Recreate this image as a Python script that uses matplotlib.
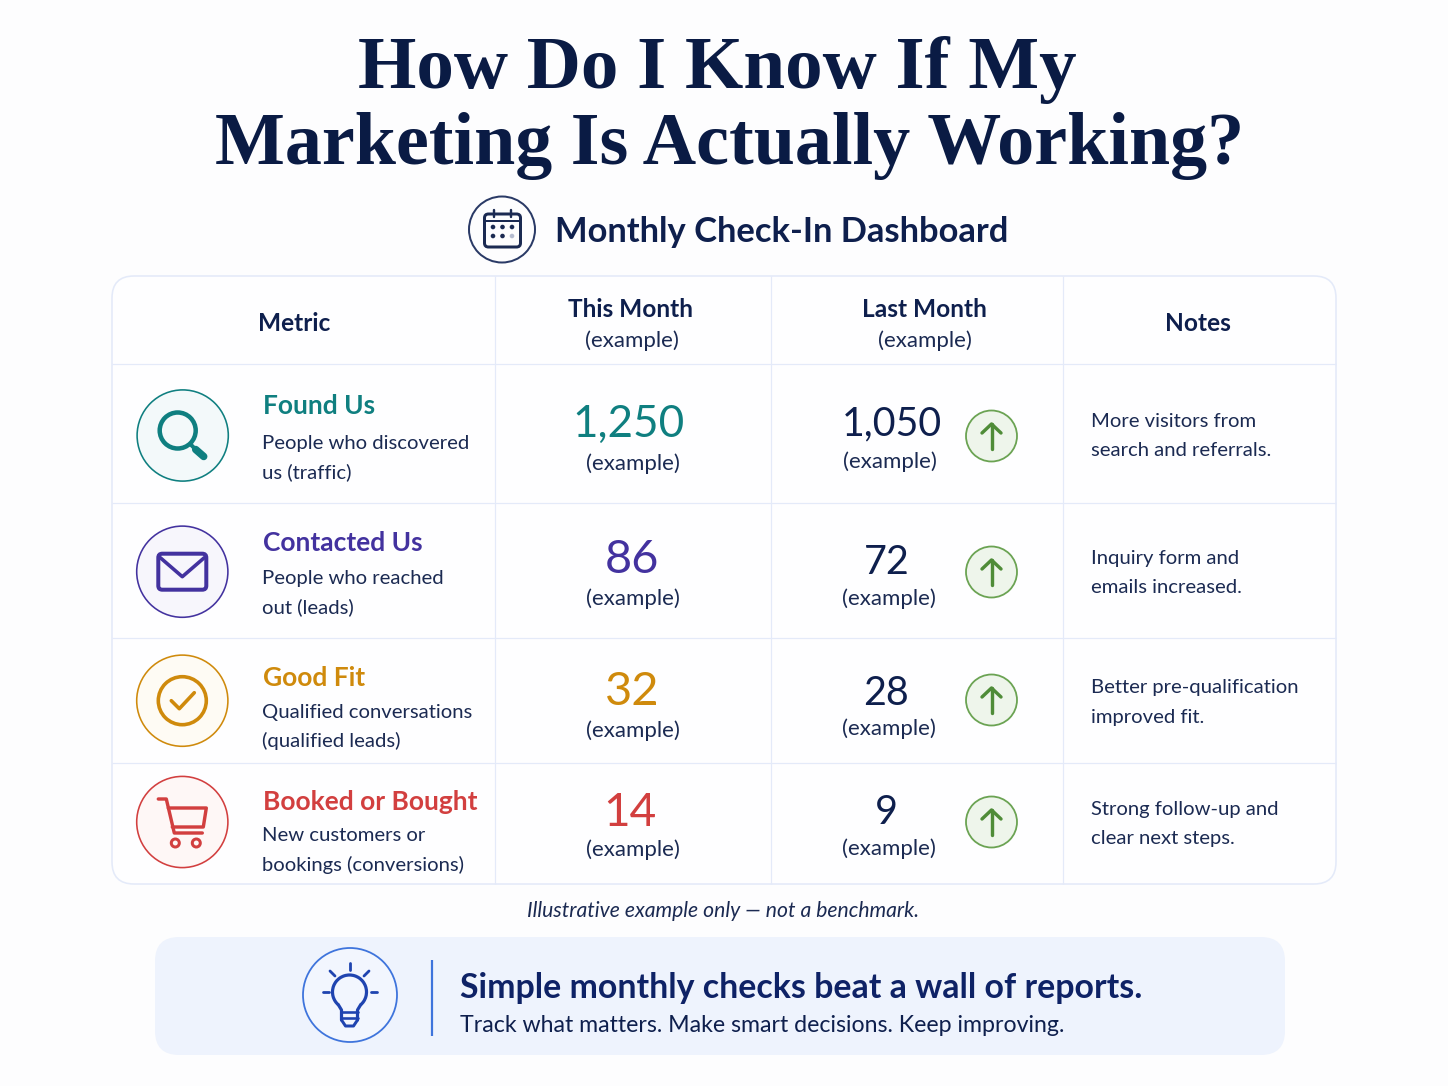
import numpy as np
import matplotlib
matplotlib.use("Agg")
import matplotlib.pyplot as plt
from matplotlib.patches import Circle, FancyBboxPatch, Rectangle, Arc, PathPatch
from matplotlib.path import Path

# ---------- content ----------
title_lines = ["How Do I Know If My", "Marketing Is Actually Working?"]
subtitle = "Monthly Check-In Dashboard"
col_heads = ["Metric", "This Month", "Last Month", "Notes"]
example = "(example)"
metrics = ["Found Us", "Contacted Us", "Good Fit", "Booked or Bought"]
desc_a = ["People who discovered", "People who reached", "Qualified conversations", "New customers or"]
desc_b = ["us (traffic)", "out (leads)", "(qualified leads)", "bookings (conversions)"]
this_month = ["1,250", "86", "32", "14"]
last_month = ["1,050", "72", "28", "9"]
notes_a = ["More visitors from", "Inquiry form and", "Better pre-qualification", "Strong follow-up and"]
notes_b = ["search and referrals.", "emails increased.", "improved fit.", "clear next steps."]
footnote = "Illustrative example only \u2014 not a benchmark."
banner_head = "Simple monthly checks beat a wall of reports."
banner_sub = "Track what matters. Make smart decisions. Keep improving."

# ---------- style ----------
NAVY = "#0E1F4D"
INK = "#1B2A52"
GRID = "#E4EAF9"
accents = ["#0F7F80", "#43329F", "#CF8A0C", "#D23F3F"]
tints = ["#F3F9FA", "#F7F6FC", "#FEFBF4", "#FEF7F6"]
GREEN = "#6BA353"
BLUE = "#3E74DC"
BLUE_D = "#1F44B0"

W, H = 1448, 1086
fig = plt.figure(figsize=(W / 100, H / 100), dpi=100, facecolor="#FDFDFE")
ax = fig.add_axes([0, 0, 1, 1])
ax.set_xlim(0, W)
ax.set_ylim(H, 0)
ax.axis("off")
PX = 72 / 100


def txt(x, y, s, px, color=INK, weight="normal", ha="left", family="Lato", style="normal"):
    ax.text(x, y, s, fontsize=px * PX, color=color, fontweight=weight, ha=ha, va="baseline",
            family=family, fontstyle=style)


def ln(xs, ys, c, lw, z=5, cap="round"):
    ax.plot(xs, ys, color=c, lw=lw * PX, solid_capstyle=cap, solid_joinstyle="round", zorder=z)


def circ(x, y, r, ec, fc, lw):
    ax.add_patch(Circle((x, y), r, ec=ec, fc=fc, lw=lw * PX, zorder=3))


def rbox(x0, y0, x1, y1, r, ec, fc, lw, z=2):
    ax.add_patch(FancyBboxPatch((x0 + r, y0 + r), x1 - x0 - 2 * r, y1 - y0 - 2 * r,
                                boxstyle=f"round,pad={r},rounding_size={r}",
                                ec=ec, fc=fc, lw=lw * PX, zorder=z))


# ---------- title ----------
txt(717, 88, title_lines[0], 75, "#0A1B44", "bold", "center", "Liberation Serif")
txt(729.5, 164, title_lines[1], 74, "#0A1B44", "bold", "center", "Liberation Serif")

# calendar icon + subtitle
circ(502, 229.5, 33, "#2A3A66", "#FDFDFE", 2)
rbox(484.5, 214, 520.5, 247, 4, "#1B2A52", "none", 3, 5)
ln([485, 520], [221, 221], "#1B2A52", 2)
for vx in (494, 511):
    ln([vx, vx], [210, 217], "#1B2A52", 2.4)
for dx in (493, 502.5, 512):
    ax.add_patch(Circle((dx, 227), 2.3, fc="#1B2A52", ec="none", zorder=6))
for dx, dc in zip((493, 502.5, 512), ("#1B2A52", "#1B2A52", "#B5BCD0")):
    ax.add_patch(Circle((dx, 236), 2.3, fc=dc, ec="none", zorder=6))
txt(555, 242, subtitle, 34.5, "#0E1F4D", "bold")

# ---------- table ----------
T, B, L, R = 276, 884, 112, 1336
cols = [495, 771, 1063]
rows = [363.5, 503, 637.5, 762.5]
rbox(L, T, R, B, 22, GRID, "#FEFEFF", 1.6)
for c in cols:
    ln([c, c], [T, B], GRID, 1.2, 3, "butt")
for r in rows:
    ln([L, R], [r, r], GRID, 1.2, 3, "butt")

txt(294, 331, col_heads[0], 24.4, NAVY, "bold", "center")
txt(631, 317, col_heads[1], 24.4, NAVY, "bold", "center")
txt(631.5, 347, example, 22.3, INK, "normal", "center")
txt(924, 317, col_heads[2], 24.4, NAVY, "bold", "center")
txt(925, 347, example, 22.3, INK, "normal", "center")
txt(1198, 331, col_heads[3], 24.4, NAVY, "bold", "center")

icon_y = [435.5, 571.7, 700.7, 822]
icon_x = [182.7, 182.3, 182.3, 182.3]
title_b = [414, 551, 686, 810]
d1_b = [449, 584, 718, 841]
d2_b = [478, 613, 747, 871]
val_x = [629, 632, 632, 630]
val_b = [437, 573, 705, 826]
val_px = [44, 47, 47, 46]
ex_b = [470, 605, 737, 856]
last_x = [892, 887, 886, 886]
last_b = [435, 574, 705, 824]
lex_x = [890, 889, 889, 889]
lex_b = [468, 605, 735, 855]
n1_b = [427, 564, 693, 815]
n2_b = [456, 593, 723, 844]
arrow_y = [436, 572, 700, 822]

for i in range(4):
    col = accents[i]
    cx, cy = icon_x[i], icon_y[i]
    circ(cx, cy, 45.6, col, tints[i], 1.6)
    if i == 0:
        ax.add_patch(Circle((cx - 5, cy - 5), 18, ec=col, fc="none", lw=4.5 * PX, zorder=5))
        ln([cx + 8, cx + 13], [cy + 9, cy + 14], col, 4)
        ln([cx + 13, cx + 21], [cy + 14, cy + 21], col, 7.5)
    elif i == 1:
        rbox(cx - 24, cy - 18, cx + 24, cy + 18, 4, col, "none", 4, 5)
        ln([cx - 22, cx, cx + 22], [cy - 14, cy + 5, cy - 14], col, 3.6)
    elif i == 2:
        ax.add_patch(Circle((cx, cy), 24, ec=col, fc="none", lw=3.6 * PX, zorder=5))
        ln([cx - 11, cx - 3, cx + 12], [cy, cy + 8, cy - 8], col, 3.6)
    else:
        ln([cx - 24, cx - 16, cx - 8, cx + 20], [cy - 23, cy - 23, cy + 11, cy + 11], col, 3.4)
        ln([cx - 14, cx + 24, cx + 21, cx - 10], [cy - 14, cy - 14, cy + 5, cy + 5], col, 3.4)
        for wx in (cx - 7, cx + 14):
            ax.add_patch(Circle((wx, cy + 21), 4, ec=col, fc="#FEF7F6", lw=3 * PX, zorder=5))

    txt(263, title_b[i], metrics[i], 26.4, col, "bold")
    txt(262, d1_b[i], desc_a[i], 20.3, INK)
    txt(262, d2_b[i], desc_b[i], 20.3, INK)
    txt(val_x[i], val_b[i], this_month[i], val_px[i], col, "normal", "center")
    txt(633, ex_b[i], example, 22.3, INK, "normal", "center")
    txt(last_x[i], last_b[i], last_month[i], 39.5, NAVY, "normal", "center")
    txt(lex_x[i], lex_b[i], example, 22.3, INK, "normal", "center")

    ay = arrow_y[i]
    circ(991.5, ay, 25.5, GREEN, "#EEF5EB", 1.8)
    ln([991.5, 991.5], [ay - 12, ay + 13], "#4F8C38", 3.4)
    ln([982, 991.5, 1001], [ay - 3, ay - 12, ay - 3], "#4F8C38", 3.4)

    txt(1091, n1_b[i], notes_a[i], 20.3, INK)
    txt(1091, n2_b[i], notes_b[i], 20.3, INK)

txt(723, 917, footnote, 21.2, INK, "normal", "center", style="italic")

# ---------- banner ----------
rbox(155, 937, 1285, 1055, 24, "none", "#EEF3FD", 0)
circ(350, 995, 47, BLUE, "#F2F6FE", 1.8)
bx, by = 349.5, 992
ax.add_patch(Arc((bx, by), 34, 34, theta1=130, theta2=50, ec=BLUE_D, lw=3.2 * PX, zorder=5))
ln([bx - 11, bx - 8, bx - 8], [by + 13, by + 18, by + 28], BLUE_D, 3.2)
ln([bx + 11, bx + 8, bx + 8], [by + 13, by + 18, by + 28], BLUE_D, 3.2)
ln([bx - 8, bx + 8], [by + 20, by + 20], BLUE_D, 2.6)
ln([bx - 8, bx + 8], [by + 26, by + 26], BLUE_D, 2.6)
ln([bx - 8, bx - 4, bx + 4, bx + 8], [by + 28, by + 34, by + 34, by + 28], BLUE_D, 3)
ln([bx, bx], [by - 29, by - 22], BLUE_D, 2.8)
ln([bx - 19.5, bx - 14.5], [by - 21, by - 16], BLUE_D, 2.8)
ln([bx + 19.5, bx + 14.5], [by - 21, by - 16], BLUE_D, 2.8)
ln([bx - 27, bx - 21], [by, by], BLUE_D, 2.8)
ln([bx + 21, bx + 27], [by, by], BLUE_D, 2.8)
ln([432, 432], [960, 1036], BLUE, 2.2, 5, "butt")
txt(460, 998, banner_head, 33.9, "#0E2266", "bold")
txt(460, 1032, banner_sub, 23.1, NAVY)

fig.savefig("out.png", dpi=100, facecolor=fig.get_facecolor())
